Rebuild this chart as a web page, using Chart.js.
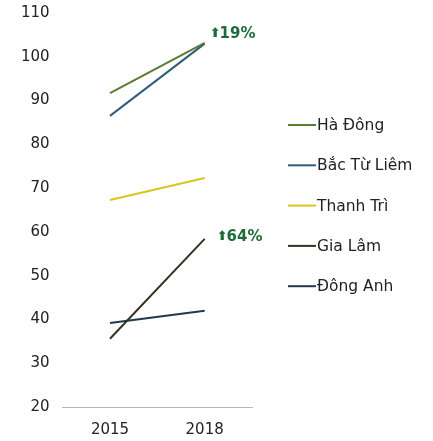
<!DOCTYPE html>
<html>
<head>
<meta charset="utf-8">
<script src="https://cdn.jsdelivr.net/npm/chart.js@4/dist/chart.umd.min.js"></script>
<style>
  html, body { margin: 0; padding: 0; background: #fff; }
  #wrap { width: 433px; height: 441px; position: relative; }
</style>
</head>
<body>
<div id="wrap"><canvas id="c" width="433" height="441"></canvas></div>
<script>
const years = ['2015', '2018'];
const seriesNames = ['Hà Đông', 'Bắc Từ Liêm', 'Thanh Trì', 'Gia Lâm', 'Đông Anh'];
const haDong = [91.7, 103.2];
const bacTuLiem = [86.5, 103.0];
const thanhTri = [67.3, 72.3];
const giaLam = [35.6, 58.4];
const dongAnh = [39.2, 42.0];
const seriesColors = ['#5d7a32', '#2f5d7c', '#d8c61e', '#333324', '#22384f'];
const yTicks = [20, 30, 40, 50, 60, 70, 80, 90, 100, 110];
const growthLabels = [
  { series: 1, text: '19%' },
  { series: 3, text: '64%' }
];

const seriesValues = [haDong, bacTuLiem, thanhTri, giaLam, dongAnh];
const FONT = '"DejaVu Sans", "Liberation Sans", sans-serif';

const datasets = seriesNames.map((name, i) => ({
  label: name,
  data: seriesValues[i],
  borderColor: seriesColors[i],
  backgroundColor: seriesColors[i],
  borderWidth: 2,
  pointRadius: 0,
  tension: 0,
  fill: false
}));

const extras = {
  id: 'extras',
  afterDraw(chart) {
    const ctx = chart.ctx;
    const xs = chart.scales.x, ys = chart.scales.y;
    ctx.save();
    // growth annotations
    const offsets = [{dx: 5, dy: -10}, {dx: 12, dy: -2}];
    growthLabels.forEach((g, k) => {
      const v = seriesValues[g.series];
      const px = xs.getPixelForValue(1) + offsets[k].dx;
      const py = ys.getPixelForValue(v[1]) + offsets[k].dy;
      ctx.fillStyle = '#1f6b3c';
      ctx.textBaseline = 'middle';
      ctx.textAlign = 'left';
      ctx.font = 'bold 13px ' + FONT;
      ctx.fillText('⬆', px, py);
      const aw = ctx.measureText('⬆').width;
      ctx.font = 'bold 15px ' + FONT;
      ctx.fillText(g.text, px + aw - 1, py + 0.5);
    });
    // legend
    const lx0 = 288, lx1 = 316, ly0 = 125, step = 40.3;
    ctx.font = '15.5px ' + FONT;
    ctx.textBaseline = 'middle';
    ctx.textAlign = 'left';
    seriesNames.forEach((name, i) => {
      const y = ly0 + i * step;
      ctx.strokeStyle = seriesColors[i];
      ctx.lineWidth = 2;
      ctx.beginPath();
      ctx.moveTo(lx0, y);
      ctx.lineTo(lx1, y);
      ctx.stroke();
      ctx.fillStyle = '#222';
      ctx.fillText(name, lx1 + 1, y + 1);
    });
    ctx.restore();
  }
};

new Chart(document.getElementById('c'), {
  type: 'line',
  data: { labels: years, datasets },
  options: {
    responsive: false,
    animation: false,
    layout: { padding: { top: 13, right: 181, bottom: -12, left: 8 } },
    plugins: { legend: { display: false }, tooltip: { enabled: false } },
    scales: {
      x: {
        type: 'category',
        offset: true,
        grid: { display: false, drawTicks: false },
        border: { display: true, color: '#b5b5b5', width: 1 },
        ticks: { color: '#222', font: { family: FONT, size: 15 }, padding: 14, maxRotation: 0 }
      },
      y: {
        min: 20, max: 110,
        afterBuildTicks(scale) { scale.ticks = yTicks.map(v => ({ value: v })); },
        afterFit(scale) { scale.paddingTop = 0; scale.paddingBottom = 0; },
        grid: { display: false, drawTicks: false },
        border: { display: false },
        ticks: { color: '#222', font: { family: FONT, size: 15 }, padding: 13 }
      }
    }
  },
  plugins: [extras]
});
</script>
</body>
</html>
